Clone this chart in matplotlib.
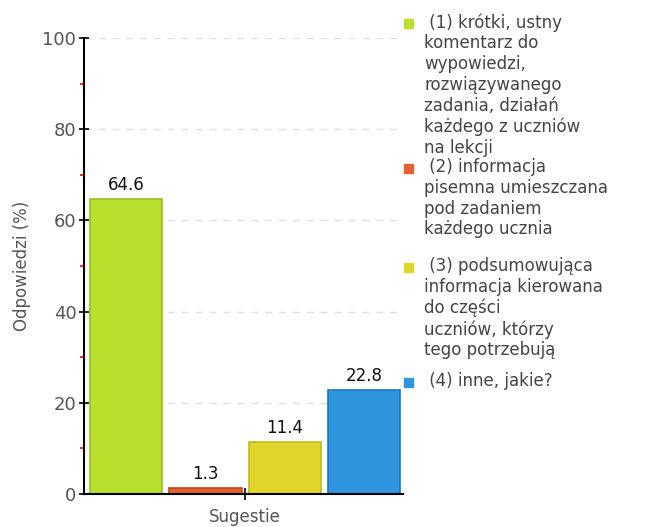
import numpy as np
import matplotlib.pyplot as plt
from matplotlib.patches import Rectangle
from matplotlib.ticker import MultipleLocator

values = [64.6, 1.3, 11.4, 22.8]
colors = ["#b9e02e", "#e2622f", "#e0d52a", "#2e95de"]
edges = ["#98c01c", "#c2461c", "#c4b91c", "#1d78c4"]
labels = [
    " (1) krótki, ustny\nkomentarz do\nwypowiedzi,\nrozwiązywanego\nzadania, działań\nkażdego z uczniów\nna lekcji",
    " (2) informacja\npisemna umieszczana\npod zadaniem\nkażdego ucznia",
    " (3) podsumowująca\ninformacja kierowana\ndo części\nuczniów, którzy\ntego potrzebują",
    " (4) inne, jakie?",
]
legend_y = [23, 168, 267, 382]

W, H = 646, 527
fig = plt.figure(figsize=(W / 100, H / 100), dpi=100)
ax = fig.add_axes([84 / W, 1 - 494 / H, 319 / W, (494 - 38) / H])

x = np.arange(len(values))
bars = ax.bar(x, values, width=0.91, color=colors, edgecolor=edges, linewidth=1.2)
for xi, v in zip(x, values):
    ax.text(xi, v + 1.2, f"{v:.1f}", ha="center", va="bottom", fontsize=12, color="#111111")

ax.set_xlim(-0.53, 3.49)
ax.set_ylim(0, 100)
ax.yaxis.set_major_locator(MultipleLocator(20))
ax.yaxis.set_minor_locator(MultipleLocator(10))
ax.tick_params(axis="y", which="major", direction="inout", length=7, width=1.2,
               color="black", labelsize=13, labelcolor="#555555", pad=2)
ax.tick_params(axis="y", which="minor", direction="out", length=3, width=1.2, color="red")
ax.set_xticks([1.5])
ax.set_xticklabels(["Sugestie"])
ax.tick_params(axis="x", direction="inout", length=8, width=1.2, color="black",
               labelsize=12, labelcolor="#555555", pad=6)
ax.set_ylabel("Odpowiedzi (%)", fontsize=12, color="#555555", labelpad=8)

for y in range(20, 101, 20):
    ax.axhline(y, color="#e0e0e0", linestyle=(0, (5, 5)), linewidth=1, zorder=0)

for s in ["top", "right"]:
    ax.spines[s].set_visible(False)
for s in ["left", "bottom"]:
    ax.spines[s].set_linewidth(1.5)

for c, lab, yy in zip(colors, labels, legend_y):
    fig.patches.append(Rectangle((404 / W, 1 - (yy + 4.5) / H), 9 / W, 9 / H,
                                 transform=fig.transFigure, color=c))
    fig.text(424 / W, 1 - (yy - 10) / H, lab, ha="left", va="top", fontsize=12,
             color="#444444", linespacing=1.2)

fig.savefig("out.png", dpi=100)
